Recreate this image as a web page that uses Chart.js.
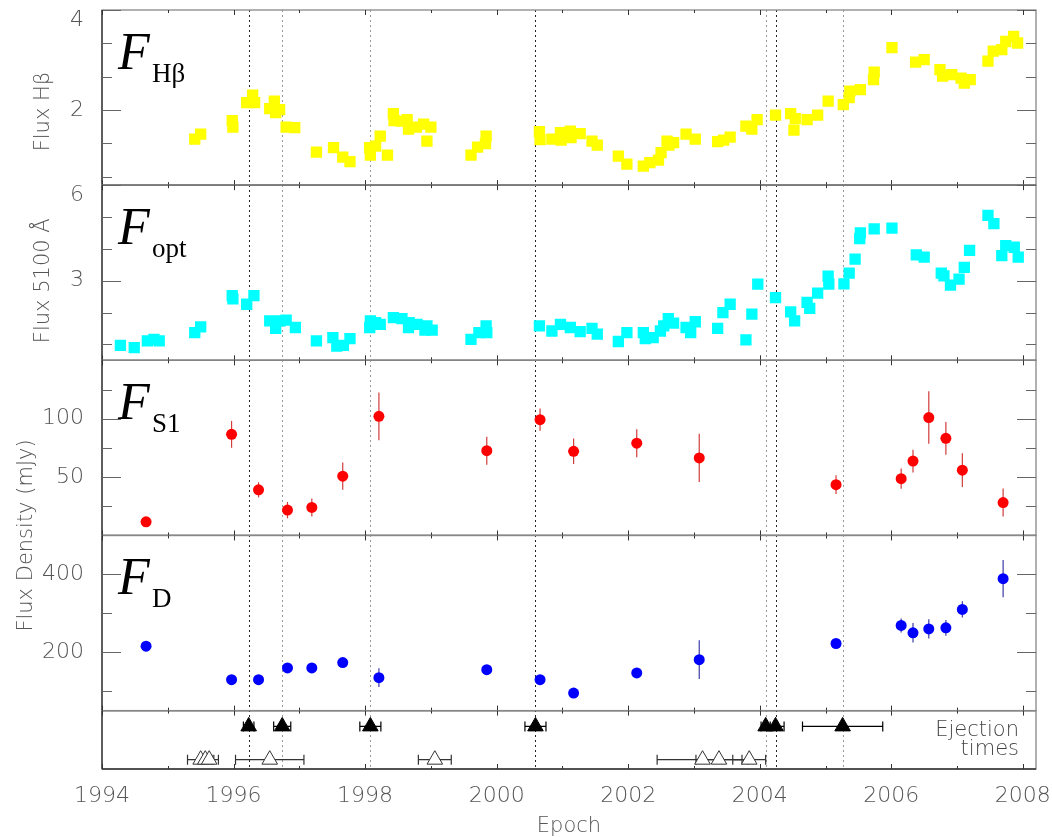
<!DOCTYPE html>
<html>
<head>
<meta charset="utf-8">
<script src="https://cdn.jsdelivr.net/npm/chart.js@4.4.1/dist/chart.umd.min.js"></script>
<style>
  html, body { margin: 0; background: #fff; }
  #wrap { width: 1052px; height: 837px; }
</style>
</head>
<body>
<div id="wrap"><canvas id="chart" width="1052" height="837"></canvas></div>
<script>
// ── data ─────────────────────────────────────────────
const hbYear = [1995.41, 1995.50, 1995.98, 1995.99, 1996.20, 1996.29, 1996.32, 1996.55, 1996.62, 1996.64,
  1996.70, 1996.80, 1996.93, 1997.26, 1997.52, 1997.66, 1997.77, 1998.07, 1998.08, 1998.16,
  1998.23, 1998.34, 1998.43, 1998.44, 1998.55, 1998.64, 1998.66, 1998.78, 1998.89, 1998.94,
  1999.00, 1999.61, 1999.71, 1999.83, 1999.84, 2000.65, 2000.66, 2000.84, 2000.97, 2000.98,
  2001.12, 2001.13, 2001.27, 2001.45, 2001.53, 2001.85, 2001.98, 2002.23, 2002.33, 2002.46,
  2002.50, 2002.59, 2002.62, 2002.69, 2002.88, 2003.02, 2003.36, 2003.45, 2003.55, 2003.79,
  2003.88, 2003.96, 2004.24, 2004.47, 2004.52, 2004.54, 2004.72, 2004.88, 2005.04, 2005.27,
  2005.36, 2005.37, 2005.53, 2005.73, 2005.74, 2006.01, 2006.37, 2006.50, 2006.74, 2006.78,
  2006.92, 2007.06, 2007.11, 2007.20, 2007.47, 2007.55, 2007.68, 2007.74, 2007.86, 2007.92];
const hbFlux = [1.42, 1.52, 1.79, 1.66, 2.15, 2.30, 2.15, 2.03, 2.18, 1.95,
  2.01, 1.66, 1.65, 1.16, 1.25, 1.06, 0.97, 1.25, 1.10, 1.28,
  1.48, 1.10, 1.93, 1.79, 1.78, 1.81, 1.62, 1.66, 1.72, 1.38,
  1.66, 1.10, 1.26, 1.33, 1.48, 1.57, 1.41, 1.42, 1.55, 1.40,
  1.58, 1.45, 1.53, 1.38, 1.30, 1.08, 0.92, 0.88, 0.95, 1.00,
  1.15, 1.38, 1.30, 1.35, 1.52, 1.42, 1.37, 1.40, 1.46, 1.68,
  1.62, 1.81, 1.90, 1.93, 1.60, 1.83, 1.81, 1.90, 2.18, 2.11,
  2.25, 2.38, 2.41, 2.61, 2.76, 3.25, 2.96, 3.01, 2.81, 2.68,
  2.71, 2.64, 2.54, 2.61, 2.98, 3.18, 3.21, 3.37, 3.47, 3.34];

const optYear = [1994.28, 1994.49, 1994.69, 1994.79, 1994.87, 1995.41, 1995.50, 1995.98, 1995.99, 1996.20,
  1996.31, 1996.55, 1996.64, 1996.71, 1996.80, 1996.94, 1997.26, 1997.51, 1997.57, 1997.67,
  1997.77, 1998.07, 1998.08, 1998.16, 1998.23, 1998.43, 1998.56, 1998.66, 1998.67, 1998.79,
  1998.91, 1998.94, 1999.02, 1999.61, 1999.73, 1999.84, 1999.85, 2000.65, 2000.84, 2000.97,
  2001.12, 2001.27, 2001.45, 2001.53, 2001.85, 2001.98, 2002.23, 2002.26, 2002.38, 2002.49,
  2002.54, 2002.61, 2002.69, 2002.88, 2002.95, 2003.02, 2003.36, 2003.44, 2003.55, 2003.79,
  2003.88, 2003.97, 2004.24, 2004.47, 2004.53, 2004.72, 2004.76, 2004.88, 2005.04, 2005.05,
  2005.28, 2005.36, 2005.45, 2005.52, 2005.53, 2005.74, 2006.01, 2006.38, 2006.50, 2006.76,
  2006.80, 2006.90, 2007.03, 2007.11, 2007.19, 2007.47, 2007.56, 2007.68, 2007.74, 2007.87,
  2007.93];
const optFlux = [0.97, 0.90, 1.11, 1.16, 1.11, 1.37, 1.55, 2.53, 2.43, 2.26,
  2.53, 1.74, 1.50, 1.74, 1.76, 1.53, 1.11, 1.21, 0.95, 0.97,
  1.18, 1.53, 1.74, 1.68, 1.63, 1.84, 1.81, 1.53, 1.68, 1.63,
  1.45, 1.58, 1.45, 1.16, 1.37, 1.58, 1.37, 1.58, 1.42, 1.63,
  1.53, 1.40, 1.50, 1.32, 1.09, 1.37, 1.37, 1.18, 1.21, 1.42,
  1.58, 1.81, 1.67, 1.53, 1.37, 1.71, 1.50, 2.00, 2.26, 1.14,
  1.95, 2.89, 2.47, 2.02, 1.74, 2.32, 2.13, 2.61, 3.14, 2.89,
  2.90, 3.24, 3.68, 4.32, 4.50, 4.63, 4.65, 3.81, 3.74, 3.24,
  3.15, 2.86, 3.05, 3.42, 3.95, 5.05, 4.79, 3.79, 4.10, 4.05,
  3.74];

// radio epochs shared by the S1 and D panels
const radioYear = [1994.67, 1995.97, 1996.38, 1996.82, 1997.19, 1997.66, 1998.21, 1999.85, 2000.66, 2001.17,
  2002.13, 2003.08, 2005.16, 2006.15, 2006.33, 2006.57, 2006.83, 2007.08, 2007.70];
const s1Flux = [11.7, 86.6, 39.1, 21.7, 24.0, 50.8, 102, 72.6, 99.2, 72.1,
  79.0, 66.4, 43.5, 48.6, 63.7, 101, 83.2, 55.9, 28.2];
const s1Err  = [2, 11.5, 6.5, 7, 7.7, 11.6, 20.5, 12, 9.5, 11,
  12, 20.7, 8, 8.7, 9.8, 22.5, 14, 14.4, 12];
const dFlux  = [215.5, 129.6, 129.6, 159.6, 159.6, 173.4, 134.7, 155.3, 129.6, 95,
  146.7, 181, 222.4, 268.8, 249.8, 260, 262.6, 310, 389];
const dErr   = [4, 6, 5, 10, 8, 10, 24, 10, 12, 5,
  5, 50, 8, 18, 25, 25, 20, 21, 48];

// ejection times (filled = upper row, open = lower row)
const ejFilledT   = [1996.23, 1996.74, 1998.08, 2000.59, 2004.09, 2004.24, 2005.26];
const ejFilledErr = [0.08, 0.13, 0.16, 0.16, 0.07, 0.13, 0.61];
const ejOpenT     = [1995.50, 1995.57, 1995.63, 1996.55, 1999.06, 2003.13, 2003.38, 2003.84];
const ejOpenErr   = [0.20, 0.10, 0.14, 0.52, 0.25, 0.69, 0.35, 0.25];
const ejLineDark  = [true, false, false, true, false, true, false];

// axes
const xTicks     = [1994, 1996, 1998, 2000, 2002, 2004, 2006, 2008];
const xMinor     = [1995, 1997, 1999, 2001, 2003, 2005, 2007];
const hbTicks    = [2 / 3, 4 / 3, 2, 8 / 3, 10 / 3, 4];
const hbLabels   = [2, 4];
const optTicks   = [1, 2, 3, 4, 5, 6];
const optLabels  = [3, 6];
const s1Ticks    = [25, 50, 75, 100, 125];
const s1Labels   = [50, 100];
const dTicks     = [100, 200, 300, 400];
const dLabels    = [200, 400];
const ROW_FILLED = 0.73, ROW_OPEN = 0.16;

const FONT = "'DejaVu Sans', sans-serif";
const pts = (xs, ys) => xs.map((x, i) => ({ x, y: ys[i] }));
const row = (xs, y) => xs.map(x => ({ x, y }));

/* ── inward ticks, frames, error bars, labels ─────────── */
const panelDeco = {
  id: 'panelDeco',
  beforeDatasetsDraw(chart) {
    const { ctx, chartArea: a, scales } = chart;
    const x = scales.x;
    ctx.save();
    ctx.lineWidth = 1;
    ctx.setLineDash([2, 3]);
    ejFilledT.forEach((t, i) => {
      const px = Math.round(x.getPixelForValue(t)) + 0.5;
      ctx.strokeStyle = ejLineDark[i] ? '#222' : '#999';
      ctx.beginPath(); ctx.moveTo(px, a.top); ctx.lineTo(px, a.bottom); ctx.stroke();
    });
    ctx.setLineDash([]);

    chart.data.datasets.forEach(ds => {
      const ys = scales[ds.yAxisID];
      ctx.strokeStyle = ds.errColor || '#000';
      ctx.lineWidth = 1.2;
      ds.data.forEach((p, i) => {
        const px = x.getPixelForValue(p.x), py = ys.getPixelForValue(p.y);
        if (ds.errY) {
          ctx.beginPath();
          ctx.moveTo(px, ys.getPixelForValue(p.y - ds.errY[i]));
          ctx.lineTo(px, ys.getPixelForValue(p.y + ds.errY[i]));
          ctx.stroke();
        }
        if (ds.errX) {
          const x0 = x.getPixelForValue(p.x - ds.errX[i]), x1 = x.getPixelForValue(p.x + ds.errX[i]);
          ctx.beginPath();
          ctx.moveTo(x0, py); ctx.lineTo(x1, py);
          ctx.moveTo(x0, py - 5); ctx.lineTo(x0, py + 5);
          ctx.moveTo(x1, py - 5); ctx.lineTo(x1, py + 5);
          ctx.stroke();
        }
      });
    });
    ctx.restore();
  },
  afterDatasetsDraw(chart) {
    const { ctx, chartArea: a, scales } = chart;
    const x = scales.x;
    const panels = [
      { id: 'yHb',  ticks: hbTicks,  major: hbLabels,  sub: 'Hβ' },
      { id: 'yOpt', ticks: optTicks, major: optLabels, sub: 'opt' },
      { id: 'yS1',  ticks: s1Ticks,  major: s1Labels,  sub: 'S1' },
      { id: 'yD',   ticks: dTicks,   major: dLabels,   sub: 'D' },
      { id: 'yEj',  ticks: [],       major: [],        sub: null },
    ];
    ctx.save();
    panels.forEach(p => {
      const s = scales[p.id];
      // frame
      ctx.lineWidth = 1.3;
      ctx.strokeStyle = '#888';
      ctx.strokeRect(a.left, s.top, a.right - a.left, s.bottom - s.top);
      ctx.strokeStyle = '#333';
      ctx.beginPath();
      ctx.moveTo(a.left, s.top); ctx.lineTo(a.left, s.bottom);
      ctx.moveTo(a.left, s.bottom); ctx.lineTo(a.right, s.bottom);
      ctx.stroke();
      // y ticks on both sides
      ctx.lineWidth = 1;
      ctx.strokeStyle = '#666';
      p.ticks.forEach(v => {
        const py = Math.round(s.getPixelForValue(v)) + 0.5;
        const len = p.major.includes(v) ? 19 : 10;
        ctx.beginPath();
        ctx.moveTo(a.left, py); ctx.lineTo(a.left + len, py);
        ctx.moveTo(a.right, py); ctx.lineTo(a.right - len, py);
        ctx.stroke();
      });
      // x ticks top and bottom
      ctx.strokeStyle = '#333';
      [...xTicks, ...xMinor].forEach(v => {
        const px = Math.round(x.getPixelForValue(v)) + 0.5;
        const len = xTicks.includes(v) ? 5 : 3;
        ctx.beginPath();
        ctx.moveTo(px, s.top); ctx.lineTo(px, s.top + len);
        ctx.moveTo(px, s.bottom); ctx.lineTo(px, s.bottom - len);
        ctx.stroke();
      });
      // panel label
      if (p.sub) {
        ctx.fillStyle = '#000';
        ctx.textBaseline = 'alphabetic';
        ctx.textAlign = 'left';
        ctx.font = "italic 52px 'Liberation Serif', serif";
        ctx.fillText('F', a.left + 16, s.top + 59);
        ctx.font = "27px 'Liberation Serif', serif";
        ctx.fillText(p.sub, a.left + 50, s.top + 72);
      }
    });

    // axis titles
    const vtext = (txt, cx, cy) => {
      ctx.save();
      ctx.translate(cx, cy);
      ctx.rotate(-Math.PI / 2);
      ctx.fillText(txt, 0, 0);
      ctx.restore();
    };
    ctx.fillStyle = '#555';
    ctx.font = '200 21px ' + FONT;
    ctx.textAlign = 'center';
    ctx.textBaseline = 'middle';
    const hb = scales.yHb, opt = scales.yOpt, s1 = scales.yS1, d = scales.yD, ej = scales.yEj;
    vtext('Flux Hβ', 44, (hb.top + hb.bottom) / 2 + 14);
    vtext('Flux 5100 Å', 44, (opt.top + opt.bottom) / 2 + 8);
    vtext('Flux Density (mJy)', 27, (s1.top + d.bottom) / 2);

    ctx.textAlign = 'right';
    ctx.fillStyle = '#444';
    ctx.fillText('Ejection', a.right - 17, ej.top + 20);
    ctx.fillText('times', a.right - 17, ej.top + 39);
    ctx.restore();
  },
};

// the label on an axis' top tick sits just below it, inside its own panel
const yAxis = (min, max, ticks, labels, weight) => ({
  type: 'linear',
  position: 'left',
  stack: 'panels',
  stackWeight: weight,
  min, max,
  grid: { display: false },
  border: { display: false },
  afterBuildTicks: s => { s.ticks = ticks.map(v => ({ value: v })); },
  afterFit: s => { s.width = 102; s.paddingTop = 0; s.paddingBottom = 0; },
  ticks: {
    autoSkip: false,
    padding: 10,
    color: '#555',
    font: { family: FONT, size: 22, weight: 200, lineHeight: 0.9 },
    callback: v => {
      if (!labels.includes(v)) return '';
      return v === max ? ['', String(v)] : String(v);
    },
  },
});

new Chart(document.getElementById('chart'), {
  type: 'scatter',
  data: {
    datasets: [
      { data: pts(hbYear, hbFlux), yAxisID: 'yHb', pointStyle: 'rect', pointRadius: 8,
        backgroundColor: '#ffff00', borderWidth: 0 },
      { data: pts(optYear, optFlux), yAxisID: 'yOpt', pointStyle: 'rect', pointRadius: 8,
        backgroundColor: '#00ffff', borderWidth: 0 },
      { data: pts(radioYear, s1Flux), yAxisID: 'yS1', errY: s1Err, errColor: '#d23c3c',
        pointRadius: 5.5, backgroundColor: '#ff0000', borderWidth: 0 },
      { data: pts(radioYear, dFlux), yAxisID: 'yD', errY: dErr, errColor: '#3c3ca8',
        pointRadius: 5.5, backgroundColor: '#0000ff', borderWidth: 0 },
      { data: row(ejFilledT, ROW_FILLED), yAxisID: 'yEj', errX: ejFilledErr, errColor: '#000',
        pointStyle: 'triangle', pointRadius: 9, backgroundColor: '#000', borderColor: '#000', borderWidth: 1 },
      { data: row(ejOpenT, ROW_OPEN), yAxisID: 'yEj', errX: ejOpenErr, errColor: '#333',
        pointStyle: 'triangle', pointRadius: 9, backgroundColor: '#fff', borderColor: '#333', borderWidth: 1 },
    ],
  },
  options: {
    responsive: false,
    animation: false,
    devicePixelRatio: 1,
    layout: { padding: { top: 8, right: 16, left: 0, bottom: 0 } },
    plugins: { legend: { display: false }, tooltip: { enabled: false } },
    scales: {
      x: {
        type: 'linear',
        min: 1994, max: 2008.2,
        grid: { display: false },
        border: { display: false },
        afterBuildTicks: s => { s.ticks = xTicks.map(v => ({ value: v })); },
        afterFit: s => { s.height = 68; s.paddingLeft = 0; s.paddingRight = 0; },
        ticks: {
          autoSkip: false,
          padding: 6,
          color: '#555',
          maxRotation: 0,
          font: { family: FONT, size: 22, weight: 200 },
          callback: v => String(v),
        },
        title: {
          display: true,
          text: 'Epoch',
          color: '#555',
          padding: 0,
          font: { family: FONT, size: 21, weight: 200, lineHeight: 1 },
        },
      },
      yEj:  yAxis(0, 1, [], [], 1),
      yD:   yAxis(50, 500, dTicks, dLabels, 3),
      yS1:  yAxis(0, 150, s1Ticks, s1Labels, 3),
      yOpt: yAxis(0.5, 6, optTicks, optLabels, 3),
      yHb:  yAxis(0.5, 4, hbTicks, hbLabels, 3),
    },
  },
  plugins: [panelDeco],
});
</script>
</body>
</html>
